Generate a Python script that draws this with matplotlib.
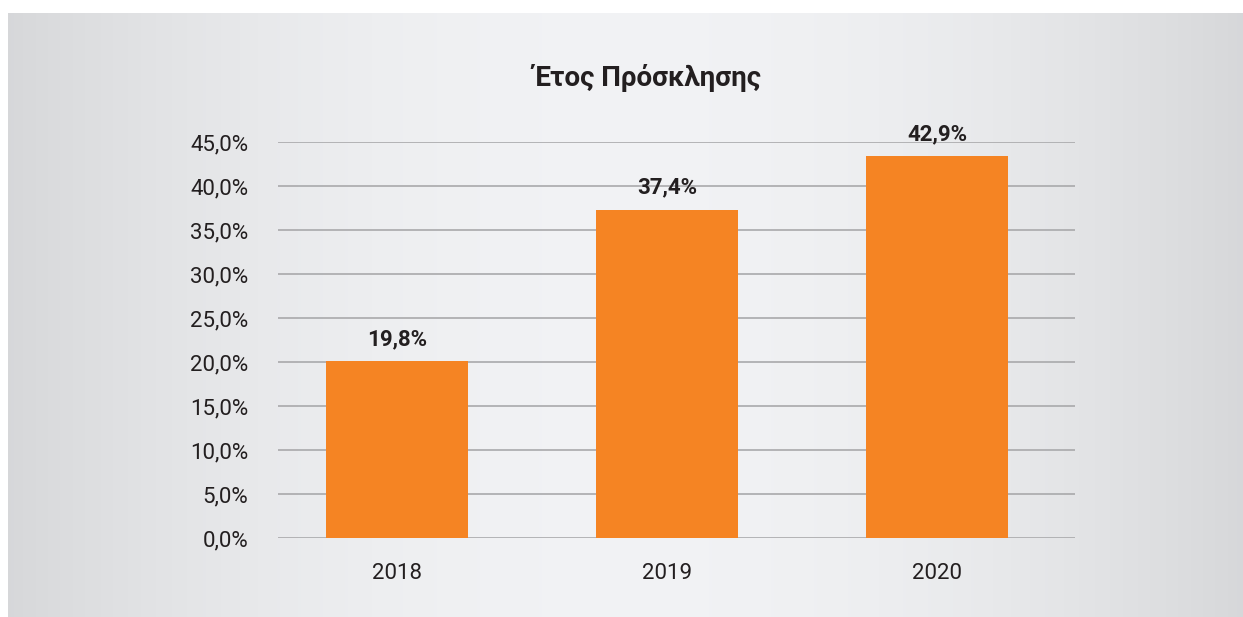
import matplotlib.pyplot as plt
import numpy as np

plt.rcParams['font.family'] = ['Roboto', 'DejaVu Sans']

years = ['2018', '2019', '2020']
heights = [20.1, 37.3, 43.4]
value_labels = ['19,8%', '37,4%', '42,9%']
yticks = [0, 5, 10, 15, 20, 25, 30, 35, 40, 45]
ytick_labels = ['%.1f%%' % t for t in yticks]
ytick_labels = [s.replace('.', ',') for s in ytick_labels]

text_col = '#231f20'
orange = '#f58423'

fig = plt.figure(figsize=(12.43, 6.17), dpi=100)
fig.patch.set_facecolor('white')

# gradient panel behind the chart
bg = fig.add_axes([8 / 1243, 0, 1 - 8 / 1243, 1 - 13 / 617])
bg.set_axis_off()
xx = np.linspace(-1, 1, 400)
shade = 0.842 + (0.947 - 0.842) * (1 - xx ** 2)
rgb = np.stack([shade, shade + 0.004, shade + 0.012], axis=-1)[None, :, :]
rgb = np.clip(rgb, 0, 1)
bg.imshow(rgb, aspect='auto', extent=[0, 1, 0, 1])

ax = fig.add_axes([278 / 1243, 1 - 538 / 617, (1075 - 278) / 1243, (538 - 142) / 617])
ax.patch.set_alpha(0)
x = np.arange(len(years))
ax.bar(x, heights, width=0.526, color=orange, zorder=3)
for xi, h, lab in zip(x, heights, value_labels):
    ax.annotate(lab, (xi, h), xytext=(0, 8), textcoords='offset points',
                ha='center', va='bottom', fontsize=16, fontweight='bold',
                color=text_col)

ax.set_xlim(-0.44, 2.51)
ax.set_ylim(0, 45)
ax.set_yticks(yticks)
ax.set_yticklabels(ytick_labels)
ax.set_xticks(x)
ax.set_xticklabels(years)
ax.tick_params(axis='y', length=0, pad=21.5, labelsize=16, labelcolor=text_col)
ax.tick_params(axis='x', length=0, pad=18, labelsize=16, labelcolor=text_col)
ax.grid(axis='y', color='#a9a9ab', linewidth=1.2, zorder=0)
for s in ax.spines.values():
    s.set_visible(False)

fig.text(647 / 1243, 1 - 78 / 617, 'Έτος Πρόσκλησης', ha='center', va='center',
         fontsize=20, fontweight='bold', color=text_col)

fig.savefig('out.png', dpi=100)
